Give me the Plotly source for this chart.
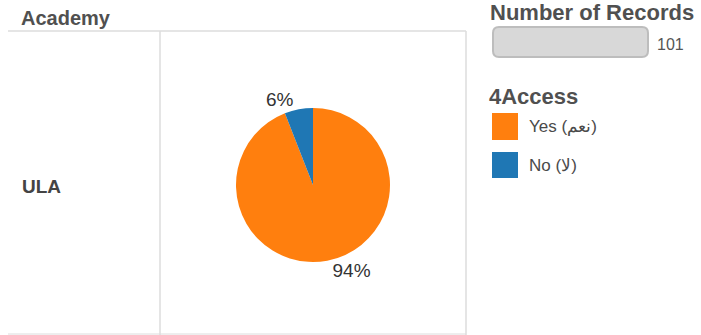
import plotly.graph_objects as go

labels = ["Yes (نعم)", "No (لا)"]
values = [95, 6]
colors = ["#FF7F0E", "#1F77B4"]
row_label = "ULA"
col_header = "Academy"
legend_title = "4Access"
size_title = "Number of Records"
total = sum(values)

W, H = 701, 335

def px(x):
    return x / W

def py(y):
    return 1 - y / H

font = "Liberation Sans, Arial, sans-serif"

fig = go.Figure()
fig.add_trace(go.Pie(
    labels=labels, values=values, sort=False, direction="clockwise", rotation=0,
    marker=dict(colors=colors, line=dict(width=0)),
    texttemplate="%{percent:.0%}", textposition="outside",
    textfont=dict(family=font, size=19, color="#333333"),
    hoverinfo="label+value+percent",
    domain=dict(x=[px(236), px(390)], y=[py(262), py(108)]),
    showlegend=False,
))

line_col = "#dcdcdc"

def pill(x0, x1, y0, y1, r):
    return (f"M {px(x0 + r)},{py(y0)} L {px(x1 - r)},{py(y0)} "
            f"Q {px(x1)},{py(y0)} {px(x1)},{py(y0 + r)} L {px(x1)},{py(y1 - r)} "
            f"Q {px(x1)},{py(y1)} {px(x1 - r)},{py(y1)} L {px(x0 + r)},{py(y1)} "
            f"Q {px(x0)},{py(y1)} {px(x0)},{py(y1 - r)} L {px(x0)},{py(y0 + r)} "
            f"Q {px(x0)},{py(y0)} {px(x0 + r)},{py(y0)} Z")

shapes = [
    dict(type="line", xref="paper", yref="paper", x0=px(8), x1=px(466), y0=py(31), y1=py(31), line=dict(color=line_col, width=1.5)),
    dict(type="line", xref="paper", yref="paper", x0=px(160), x1=px(160), y0=py(31), y1=py(335), line=dict(color=line_col, width=1.5)),
    dict(type="line", xref="paper", yref="paper", x0=px(466), x1=px(466), y0=py(31), y1=py(335), line=dict(color=line_col, width=1.5)),
    dict(type="line", xref="paper", yref="paper", x0=px(8), x1=px(466), y0=py(334), y1=py(334), line=dict(color=line_col, width=1)),
    # size legend bar
    dict(type="path", xref="paper", yref="paper", path=pill(493, 648, 27, 57, 6),
         fillcolor="#d8d8d8", line=dict(color="#bdbdbd", width=2)),
    # colour legend swatches
    dict(type="rect", xref="paper", yref="paper", x0=px(492), x1=px(518), y0=py(140), y1=py(113),
         fillcolor=colors[0], line=dict(width=0)),
    dict(type="rect", xref="paper", yref="paper", x0=px(492), x1=px(518), y0=py(178), y1=py(152),
         fillcolor=colors[1], line=dict(width=0)),
]

ann = [
    dict(text=f"<b>{col_header}</b>", x=px(19), y=py(18), xanchor="left", yanchor="middle",
         font=dict(family=font, size=20, color="#505050")),
    dict(text=f"<b>{row_label}</b>", x=px(20), y=py(186), xanchor="left", yanchor="middle",
         font=dict(family=font, size=19, color="#444444")),
    dict(text=f"<b>{size_title}</b>", x=px(488), y=py(12), xanchor="left", yanchor="middle",
         font=dict(family=font, size=22, color="#505050")),
    dict(text=str(total), x=px(655), y=py(44), xanchor="left", yanchor="middle",
         font=dict(family=font, size=16, color="#555555")),
    dict(text=f"<b>{legend_title}</b>", x=px(487), y=py(96), xanchor="left", yanchor="middle",
         font=dict(family=font, size=22, color="#505050")),
    dict(text=labels[0], x=px(527), y=py(127), xanchor="left", yanchor="middle",
         font=dict(family=font, size=17, color="#4a4a4a")),
    dict(text=labels[1], x=px(527), y=py(165), xanchor="left", yanchor="middle",
         font=dict(family=font, size=17, color="#4a4a4a")),
]
for a in ann:
    a.update(xref="paper", yref="paper", showarrow=False)

fig.update_layout(
    width=W, height=H, margin=dict(l=0, r=0, t=0, b=0),
    paper_bgcolor="white", plot_bgcolor="white",
    shapes=shapes, annotations=ann,
)
fig.write_html("out.html", config={"displayModeBar": False},
               post_script="document.body.style.margin='0';document.body.style.overflow='hidden';")
